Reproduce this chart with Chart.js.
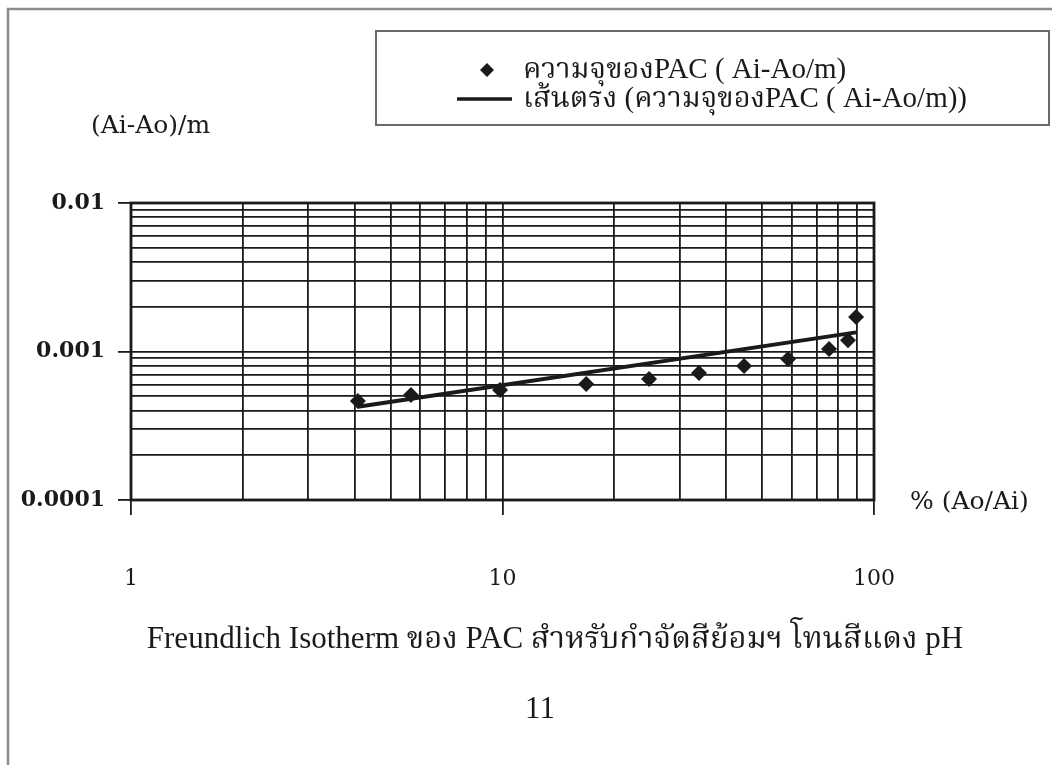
<!DOCTYPE html>
<html>
<head>
<meta charset="utf-8">
<script src="https://cdn.jsdelivr.net/npm/chart.js@4.4.1/dist/chart.umd.min.js"></script>
<style>
  html, body { margin: 0; padding: 0; background: #ffffff; }
  #wrap { width: 1052px; height: 765px; position: relative; }
</style>
</head>
<body>
<div id="wrap"><canvas id="c" width="1052" height="765"></canvas></div>
<script>
// Adsorption capacity of PAC vs. % remaining colour (Freundlich isotherm, log-log)
const xPercent = [4.08, 5.67, 9.85, 16.8, 24.8, 33.8, 44.7, 58.7, 75.7, 85.1, 89.5];
const yCapacity = [0.000464, 0.000509, 0.000551, 0.000604, 0.000653, 0.000716, 0.000799, 0.000890, 0.00104, 0.00119, 0.00171];

// Power trend line (end points of the fitted line)
const trendX = [4.08, 89.5];
const trendY = [0.000425, 0.001345];

// Axis decades and their labels
const xMajorValues = [1, 10, 100];
const xTickLabels = ['1', '10', '100'];
const yMajorValues = [0.0001, 0.001, 0.01];
const yTickLabels = ['0.0001', '0.001', '0.01'];

const seriesName = 'ความจุของPAC ( Ai-Ao/m)';
const trendName = 'เส้นตรง (ความจุของPAC ( Ai-Ao/m))';
const yTitle = '(Ai-Ao)/m';
const xTitle = '% (Ao/Ai)';
const chartTitle = ['Freundlich Isotherm ของ PAC สำหรับกำจัดสีย้อมฯ โทนสีแดง pH', '11'];

const SERIF = '"Liberation Serif", "Noto Serif Thai", "Noto Sans Thai", "DejaVu Serif", serif';
const LABEL_FONT = '"DejaVu Serif", "Liberation Serif", serif';
const INK = '#1a1a1a';

// log-decade grid positions: 1..9 times each power of ten, plus the upper bound
function decadeTicks(majors) {
  const out = [];
  for (let i = 0; i < majors.length - 1; i++) {
    for (let m = 1; m <= 9; m++) out.push(+(majors[i] * m).toPrecision(6));
  }
  out.push(majors[majors.length - 1]);
  return out;
}
function majorIndex(v, majors) {
  return majors.findIndex(m => Math.abs(v - m) / m < 1e-6);
}

const decorations = {
  id: 'decorations',
  beforeDraw(chart) {
    const ctx = chart.ctx;
    ctx.save();
    ctx.fillStyle = '#ffffff';
    ctx.fillRect(0, 0, chart.width, chart.height);
    // page frame
    ctx.strokeStyle = '#8c8c8c';
    ctx.lineWidth = 2.5;
    ctx.beginPath();
    ctx.moveTo(8, 765);
    ctx.lineTo(8, 9);
    ctx.lineTo(1052, 9);
    ctx.stroke();
    ctx.restore();
  },
  afterDatasetsDraw(chart) {
    const ctx = chart.ctx;
    const a = chart.chartArea;
    ctx.save();
    // plot border
    ctx.strokeStyle = INK;
    ctx.lineWidth = 2.8;
    ctx.strokeRect(a.left, a.top, a.right - a.left, a.bottom - a.top);

    // legend box
    ctx.strokeStyle = '#6a6a6a';
    ctx.lineWidth = 2;
    ctx.strokeRect(376, 31, 673, 94);
    ctx.fillStyle = INK;
    ctx.beginPath();
    ctx.moveTo(487, 63); ctx.lineTo(494, 70); ctx.lineTo(487, 77); ctx.lineTo(480, 70);
    ctx.closePath();
    ctx.fill();
    ctx.strokeStyle = INK;
    ctx.lineWidth = 3.5;
    ctx.beginPath();
    ctx.moveTo(457, 99); ctx.lineTo(512, 99);
    ctx.stroke();
    ctx.font = '29px ' + SERIF;
    ctx.textBaseline = 'middle';
    ctx.textAlign = 'left';
    ctx.fillText(seriesName, 523, 70);
    ctx.fillText(trendName, 523, 99);

    // axis titles
    ctx.font = '25px ' + LABEL_FONT;
    ctx.fillText(yTitle, 91, 126);
    ctx.fillText(xTitle, 910, 502);

    // chart title
    ctx.font = '31px ' + SERIF;
    ctx.textAlign = 'center';
    ctx.fillText(chartTitle[0], 555, 640);
    ctx.fillText(chartTitle[1], 540, 710);
    ctx.restore();
  }
};

const gridColor = INK;

new Chart(document.getElementById('c'), {
  type: 'scatter',
  data: {
    datasets: [
      {
        label: seriesName,
        data: xPercent.map((x, i) => ({ x: x, y: yCapacity[i] })),
        pointStyle: 'rectRot',
        pointRadius: 8,
        pointHoverRadius: 8,
        backgroundColor: INK,
        borderColor: INK,
        borderWidth: 0,
        order: 1
      },
      {
        label: trendName,
        data: trendX.map((x, i) => ({ x: x, y: trendY[i] })),
        showLine: true,
        pointRadius: 0,
        borderColor: INK,
        borderWidth: 4,
        order: 2
      }
    ]
  },
  options: {
    responsive: false,
    animation: false,
    events: [],
    layout: { padding: { left: 0, top: 203, right: 178, bottom: 0 } },
    plugins: { legend: { display: false }, title: { display: false }, tooltip: { enabled: false } },
    scales: {
      x: {
        type: 'logarithmic',
        min: 1, max: 100,
        afterBuildTicks(axis) {
          axis.ticks = decadeTicks(xMajorValues).map(v => ({ value: v, major: majorIndex(v, xMajorValues) >= 0 }));
        },
        afterFit(axis) { axis.height = 265; },
        border: { display: false },
        grid: {
          color: gridColor,
          lineWidth: 1.8,
          tickLength: 15,
          tickColor: ctx => (ctx.tick && majorIndex(ctx.tick.value, xMajorValues) >= 0) ? gridColor : 'rgba(0,0,0,0)'
        },
        ticks: {
          autoSkip: false,
          maxRotation: 0,
          padding: 51,
          color: INK,
          font: { family: LABEL_FONT, size: 22 },
          callback(value) {
            const k = majorIndex(value, xMajorValues);
            return k >= 0 ? xTickLabels[k] : '';
          }
        }
      },
      y: {
        type: 'logarithmic',
        min: 0.0001, max: 0.01,
        afterBuildTicks(axis) {
          axis.ticks = decadeTicks(yMajorValues).map(v => ({ value: v, major: majorIndex(v, yMajorValues) >= 0 }));
        },
        afterFit(axis) { axis.width = 131; },
        border: { display: false },
        grid: {
          color: gridColor,
          lineWidth: 1.8,
          tickLength: 13,
          tickColor: ctx => (ctx.tick && majorIndex(ctx.tick.value, yMajorValues) >= 0) ? gridColor : 'rgba(0,0,0,0)'
        },
        ticks: {
          autoSkip: false,
          padding: 13,
          color: INK,
          font: { family: LABEL_FONT, size: 22, weight: 'bold' },
          callback(value) {
            const k = majorIndex(value, yMajorValues);
            return k >= 0 ? yTickLabels[k] : '';
          }
        }
      }
    }
  },
  plugins: [decorations]
});
</script>
</body>
</html>
